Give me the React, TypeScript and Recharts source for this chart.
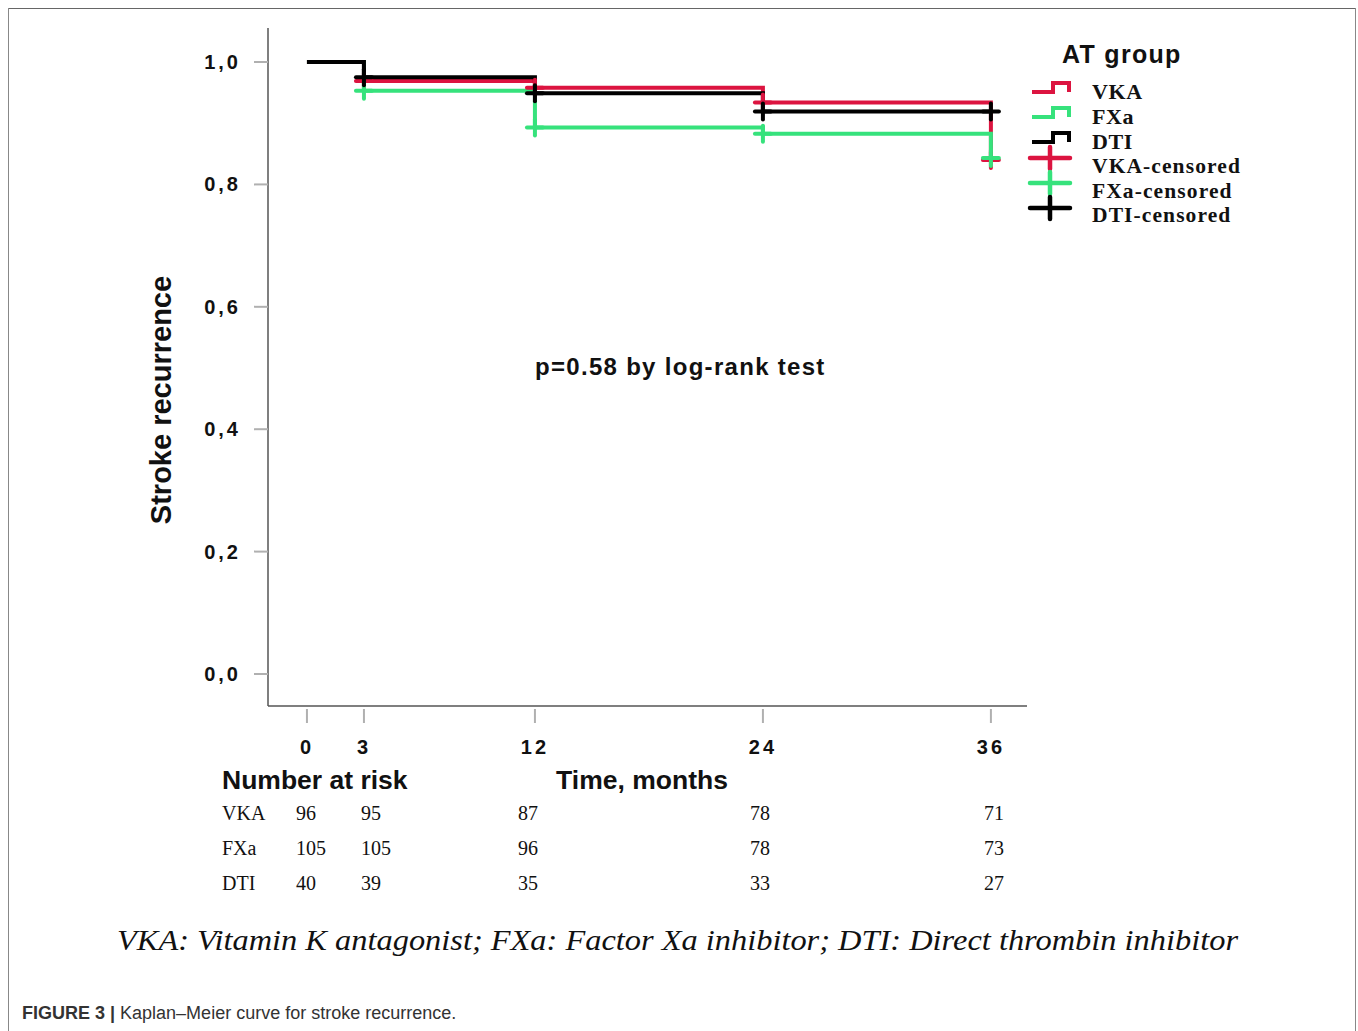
import React from "react";
import { ComposedChart, Line, Scatter, XAxis, YAxis } from "recharts";

// ---- data ----
const times = [0, 3, 12, 24, 36];
const vkaSurv = [1, 0.969, 0.958, 0.934, 0.84];
const fxaSurv = [1, 0.953, 0.893, 0.883, 0.843];
const dtiSurv = [1, 0.975, 0.949, 0.919, 0.919];
const censorTimes = [3, 12, 24, 36];
const vkaCensor = [0.969, 0.958, 0.934, 0.84];
const fxaCensor = [0.953, 0.893, 0.883, 0.843];
const dtiCensor = [0.975, 0.949, 0.919, 0.919];
const xTicks = [0, 3, 12, 24, 36];
const yTicks = [0, 0.2, 0.4, 0.6, 0.8, 1.0];
const groups = ["VKA", "FXa", "DTI"];
const atRiskVKA = [96, 95, 87, 78, 71];
const atRiskFXa = [105, 105, 96, 78, 73];
const atRiskDTI = [40, 39, 35, 33, 27];

const RED = "#dc1440";
const GREEN = "#36e27c";
const BLACK = "#000000";
const colors = [RED, GREEN, BLACK];

const toSeries = (ts: number[], ss: number[]) => ts.map((t, i) => ({ t, s: ss[i] }));
const vkaData = toSeries(times, vkaSurv);
const fxaData = toSeries(times, fxaSurv);
const dtiData = toSeries(times, dtiSurv);
const vkaCens = toSeries(censorTimes, vkaCensor);
const fxaCens = toSeries(censorTimes, fxaCensor);
const dtiCens = toSeries(censorTimes, dtiCensor);
const atRiskRows = [atRiskVKA, atRiskFXa, atRiskDTI];

const SANS = "'Liberation Sans', Arial, Helvetica, sans-serif";
const SERIF = "'Liberation Serif', 'Times New Roman', serif";

const crossShape = (color: string) => (props: any) => {
  const { cx, cy } = props;
  if (cx == null || cy == null) return <g />;
  return (
    <g>
      <line x1={cx - 8} x2={cx + 8} y1={cy} y2={cy} stroke={color} strokeWidth={4} strokeLinecap="round" />
      <line x1={cx} x2={cx} y1={cy - 8} y2={cy + 8} stroke={color} strokeWidth={4} strokeLinecap="round" />
    </g>
  );
};

const XTick = (props: any) => {
  const { x, y, payload } = props;
  return (
    <g>
      <line x1={x} x2={x} y1={y + 3} y2={y + 17} stroke="#b0b0b0" strokeWidth={2} />
      <text x={x} y={y + 48} textAnchor="middle" fontFamily={SANS} fontWeight="bold" fontSize={20} letterSpacing={3} fill="#111">
        {payload.value}
      </text>
    </g>
  );
};

const YTick = (props: any) => {
  const { x, y, payload } = props;
  const label = Number(payload.value).toFixed(1).replace(".", ",");
  return (
    <g>
      <line x1={x - 14} x2={x} y1={y} y2={y} stroke="#b0b0b0" strokeWidth={2} />
      <text x={x - 27} y={y + 7} textAnchor="end" fontFamily={SANS} fontWeight="bold" fontSize={20} letterSpacing={3} fill="#111">
        {label}
      </text>
    </g>
  );
};

const atRiskCols = [296, 361, 518, 750, 984];
const rowY = [820, 855, 890];

export default function App() {
  return (
    <div style={{ position: "absolute", left: 0, top: 0, width: 1358, height: 1031, background: "#fff" }}>
      <ComposedChart
        width={1358}
        height={1031}
        margin={{ top: 28, right: 331, bottom: 265, left: 208 }}
      >
        <XAxis
          dataKey="t"
          type="number"
          domain={[-2.05, 37.9]}
          ticks={xTicks}
          allowDataOverflow
          height={60}
          tickSize={0}
          tickMargin={0}
          tickLine={false}
          tick={<XTick />}
          axisLine={{ stroke: "#555", strokeWidth: 1.5 }}
        />
        <YAxis
          dataKey="s"
          type="number"
          domain={[-0.0523, 1.0556]}
          ticks={yTicks}
          allowDataOverflow
          width={60}
          tickSize={0}
          tickMargin={0}
          tickLine={false}
          tick={<YTick />}
          axisLine={{ stroke: "#555", strokeWidth: 1.5 }}
        />
        <Line data={vkaData} dataKey="s" type="stepAfter" stroke={RED} strokeWidth={4} dot={false} isAnimationActive={false} />
        <Line data={fxaData} dataKey="s" type="stepAfter" stroke={GREEN} strokeWidth={4} dot={false} isAnimationActive={false} />
        <Line data={dtiData} dataKey="s" type="stepAfter" stroke={BLACK} strokeWidth={4} dot={false} isAnimationActive={false} />
        <Scatter data={vkaCens} dataKey="s" shape={crossShape(RED)} isAnimationActive={false} />
        <Scatter data={fxaCens} dataKey="s" shape={crossShape(GREEN)} isAnimationActive={false} />
        <Scatter data={dtiCens} dataKey="s" shape={crossShape(BLACK)} isAnimationActive={false} />
      </ComposedChart>

      <svg width={1358} height={1031} style={{ position: "absolute", left: 0, top: 0, pointerEvents: "none" }}>
        {/* frame */}
        <line x1={8} x2={1356} y1={8.5} y2={8.5} stroke="#666" strokeWidth={1} />
        <line x1={8.5} x2={8.5} y1={8} y2={1031} stroke="#888" strokeWidth={1} />
        <line x1={1355.5} x2={1355.5} y1={8} y2={1031} stroke="#888" strokeWidth={1} />

        {/* y-axis title */}
        <text
          transform="translate(171,400) rotate(-90)"
          textAnchor="middle"
          fontFamily={SANS}
          fontWeight="bold"
          fontSize={29}
          fill="#111"
        >
          Stroke recurrence
        </text>

        {/* p-value */}
        <text x={535} y={375} fontFamily={SANS} fontWeight="bold" fontSize={24} letterSpacing={1.3} fill="#111">
          p=0.58 by log-rank test
        </text>

        {/* legend */}
        <text x={1062} y={63} fontFamily={SANS} fontWeight="bold" fontSize={25} letterSpacing={1.3} fill="#111">
          AT group
        </text>
        {groups.map((g, i) => {
          const yb = 92 + i * 25;
          return (
            <g key={g}>
              <polyline
                points={`1032,${yb} 1053,${yb} 1053,${yb - 9} 1069,${yb - 9} 1069,${yb}`}
                fill="none"
                stroke={colors[i]}
                strokeWidth={4}
              />
              <text x={1092} y={yb + 7} fontFamily={SERIF} fontWeight="bold" fontSize={22} letterSpacing={0.6} fill="#111">
                {g}
              </text>
            </g>
          );
        })}
        {groups.map((g, i) => {
          const yc = 158 + i * 25;
          return (
            <g key={g + "-c"}>
              <line x1={1030} x2={1070} y1={yc} y2={yc} stroke={colors[i]} strokeWidth={4.5} strokeLinecap="round" />
              <line x1={1050} x2={1050} y1={yc - 11} y2={yc + 11} stroke={colors[i]} strokeWidth={4.5} strokeLinecap="round" />
            </g>
          );
        })}
        {groups.map((g, i) => {
          const yt = 173 + i * 24.5;
          return (
            <text key={g + "-ct"} x={1092} y={yt} fontFamily={SERIF} fontWeight="bold" fontSize={21.5} letterSpacing={1.1} fill="#111">
              {g}-censored
            </text>
          );
        })}

        {/* number at risk */}
        <text x={222} y={789} fontFamily={SANS} fontWeight="bold" fontSize={26.5} fill="#111">
          Number at risk
        </text>
        <text x={642} y={789} textAnchor="middle" fontFamily={SANS} fontWeight="bold" fontSize={26.5} fill="#111">
          Time, months
        </text>
        {groups.map((g, r) => (
          <g key={g + "-risk"}>
            <text x={222} y={rowY[r]} fontFamily={SERIF} fontSize={20} fill="#111">
              {g}
            </text>
            {atRiskRows[r].map((v, c) => (
              <text key={c} x={atRiskCols[c]} y={rowY[r]} fontFamily={SERIF} fontSize={20} fill="#111">
                {v}
              </text>
            ))}
          </g>
        ))}

        {/* footnote */}
        <text x={117} y={950} fontFamily={SERIF} fontStyle="italic" fontSize={29} textLength={1121} lengthAdjust="spacingAndGlyphs" fill="#111">
          VKA: Vitamin K antagonist; FXa: Factor Xa inhibitor; DTI: Direct thrombin inhibitor
        </text>

        {/* caption */}
        <text x={22} y={1019} fontFamily={SANS} fontSize={18} fill="#333">
          <tspan fontWeight="bold">FIGURE 3 | </tspan>
          <tspan>Kaplan–Meier curve for stroke recurrence.</tspan>
        </text>
      </svg>
    </div>
  );
}
